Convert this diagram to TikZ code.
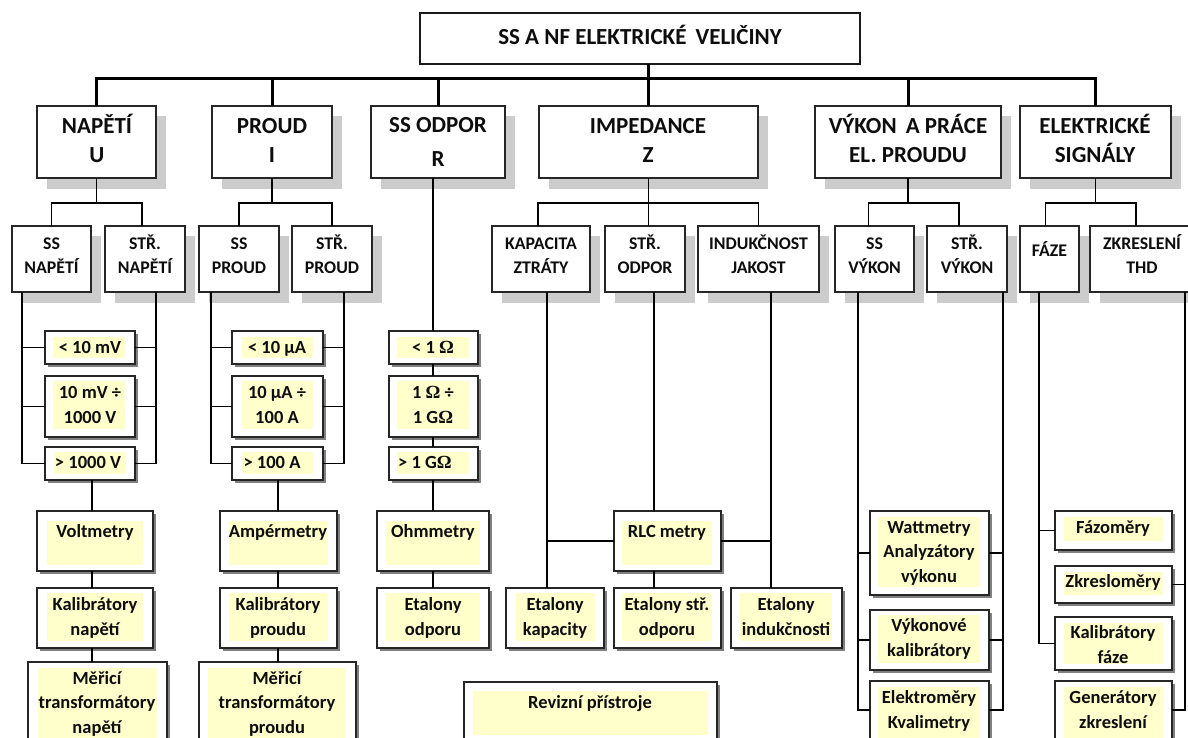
\documentclass[tikz,border=0pt]{standalone}
\usepackage{fontspec}
\setmainfont{Carlito}
\newfontfamily\omfont{Liberation Serif}
\newcommand\Om{{\omfont\bfseries Ω}}
\definecolor{yelw}{HTML}{FFFFCC}
\tikzset{
  bxA/.style={rectangle, draw=black!85, line width=1.3pt, fill=white, inner sep=0pt, outer sep=0pt},
  bxT/.style={rectangle, draw=black!90, line width=2pt, fill=white, inner sep=0pt, outer sep=0pt},
  shA/.style={fill=black!20},
  shB/.style={fill=black!50},
  yel/.style={fill=yelw},
  ln/.style={line width=1.8pt, black, line join=miter},
  busln/.style={line width=3pt, black, line join=miter},
  tA/.style={font=\fontsize{23}{29}\selectfont\bfseries, align=center, anchor=base, inner sep=0pt, text=black!95},
  tB/.style={font=\fontsize{18.5}{24.5}\selectfont\bfseries, align=center, anchor=base, inner sep=0pt, text=black!95},
  tC/.style={font=\fontsize{17.8}{24}\selectfont\bfseries, align=center, anchor=base, inner sep=0pt, text=black!95},
}
% upper box with light shadow: name x1 y1 x2 y2
\newcommand\HB[5]{%
  \fill[shA] (#2+10,#3+10) rectangle (#4+10,#5+11);
  \node[bxA, minimum width={#4-#2}, minimum height={#5-#3}] (#1) at ({(#2+#4)/2},{(#3+#5)/2}) {};
}
% lower box with thin dark shadow and yellow inner field: name x1 y1 x2 y2 {yellow rect}
\newcommand\LB[6]{%
  \fill[shB] (#2+3,#3+3) rectangle (#4+3,#5+3);
  \node[bxA, minimum width={#4-#2}, minimum height={#5-#3}] (#1) at ({(#2+#4)/2},{(#3+#5)/2}) {};
  \fill[yel] #6;
}
\begin{document}
\begin{tikzpicture}[x=1pt, y=-1pt]
\useasboundingbox (0,0) rectangle (1188,738);
\clip (0,0) rectangle (1188,738);

% ---------- title ----------
\node[bxT, minimum width=440, minimum height=51] (top) at (640,38.5) {};
\node[tA] (top-t) at (640,45) {SS A NF ELEKTRICKÉ\hspace{4pt} VELIČINY};

% ---------- level 1 ----------
\HB{nap}{37}{106}{156}{178}
\HB{proud}{212}{106}{332}{178}
\HB{odpor}{371}{106}{505}{178}
\HB{imp}{539}{106}{758}{178}
\HB{vykon}{815}{106}{1001}{178}
\HB{sig}{1020}{106}{1171}{178}
% anchor=base is the baseline of the last line
\node[tA] (nap-t) at (97,163) {NAPĚTÍ\\U};
\node[tA] (proud-t) at (272,163) {PROUD\\I};
\node[tA] (odpor-t) at (438,167) {SS ODPOR\\[5pt]R};
\node[tA] (imp-t) at (648,163) {IMPEDANCE\\Z};
\node[tA] (vykon-t) at (908,163) {VÝKON\hspace{4pt} A PRÁCE\\EL. PROUDU};
\node[tA] (sig-t) at (1095,163) {ELEKTRICKÉ\\SIGNÁLY};

% ---------- level 2 ----------
\HB{ssnap}{12}{226}{91}{292}
\HB{strnap}{105}{226}{185}{292}
\HB{ssproud}{199}{226}{279}{292}
\HB{strproud}{292}{226}{372}{292}
\HB{kap}{492}{226}{590}{292}
\HB{strodp}{605}{226}{685}{292}
\HB{ind}{698}{226}{819}{292}
\HB{ssvyk}{835}{226}{914}{292}
\HB{strvyk}{927}{226}{1007}{292}
\HB{faze}{1020}{226}{1079}{292}
\HB{zkr}{1090}{226}{1196}{292}
\node[tC] (ssnap-t) at (51.5,273) {SS\\NAPĚTÍ};
\node[tC] (strnap-t) at (145,273) {STŘ.\\NAPĚTÍ};
\node[tC] (ssproud-t) at (239,273) {SS\\PROUD};
\node[tC] (strproud-t) at (332,273) {STŘ.\\PROUD};
\node[tC] (kap-t) at (541,273) {KAPACITA\\ZTRÁTY};
\node[tC] (strodp-t) at (645,273) {STŘ.\\ODPOR};
\node[tC] (ind-t) at (758.5,273) {INDUKČNOST\\JAKOST};
\node[tC] (ssvyk-t) at (874.5,273) {SS\\VÝKON};
\node[tC] (strvyk-t) at (967,273) {STŘ.\\VÝKON};
\node[tC] (faze-t) at (1049.5,256) {FÁZE};
\node[tC] (zkr-t) at (1142,273) {ZKRESLENÍ\\THD};

% ---------- ranges ----------
\LB{r1}{45}{331}{135}{364}{(53,337) rectangle (125,358)}
\LB{r2}{45}{376}{135}{437}{(53,381) rectangle (125,429)}
\LB{r3}{45}{447}{135}{480}{(54,452) rectangle (126,474)}
\LB{p1}{232}{331}{323}{364}{(242,337) rectangle (313,358)}
\LB{p2}{232}{376}{323}{437}{(242,381) rectangle (313,429)}
\LB{p3}{232}{447}{323}{480}{(242,452) rectangle (313,474)}
\LB{o1}{389}{331}{478}{364}{(397,337) rectangle (469,358)}
\LB{o2}{389}{376}{478}{437}{(397,381) rectangle (469,429)}
\LB{o3}{389}{447}{478}{480}{(397,452) rectangle (469,474)}
\node[tB] (r1-t) at (90,353) {< 10 mV};
\node[tB] (r2-t) at (90,423) {10 mV ÷\\1000 V};
\node[tB] (r3-t) at (88,468) {> 1000 V};
\node[tB] (p1-t) at (277,353) {< 10 μA};
\node[tB] (p2-t) at (277,423) {10 μA ÷\\100 A};
\node[tB] (p3-t) at (272,468) {> 100 A};
\node[tB] (o1-t) at (433,353) {< 1 \Om};
\node[tB] (o2-t) at (433,423) {1 \Om{} ÷\\1 G\Om};
\node[tB] (o3-t) at (425,468) {> 1 G\Om};

% ---------- instruments ----------
\LB{volt}{37}{511}{153}{571}{(47,521) rectangle (143,565)}
\LB{kaln}{37}{588}{153}{648}{(47,593) rectangle (143,641)}
\LB{mern}{28}{662}{167}{750}{(38,668) rectangle (157,745)}
\LB{amp}{220}{511}{337}{571}{(229,521) rectangle (328,565)}
\LB{kalp}{220}{588}{337}{648}{(229,593) rectangle (328,641)}
\LB{merp}{199}{662}{356}{750}{(208,668) rectangle (346,745)}
\LB{ohm}{377}{511}{489}{571}{(386,521) rectangle (480,565)}
\LB{eto}{377}{588}{489}{648}{(386,593) rectangle (480,641)}
\LB{rlc}{614}{511}{721}{571}{(622,521) rectangle (712,565)}
\LB{etk}{506}{588}{604}{648}{(516,593) rectangle (595,641)}
\LB{ets}{614}{588}{721}{648}{(622,593) rectangle (712,641)}
\LB{eti}{731}{588}{842}{648}{(740,593) rectangle (832,641)}
\LB{rev}{464}{682}{717}{750}{(473,691) rectangle (708,735)}
\LB{watt}{870}{511}{989}{595}{(878,517) rectangle (980,587)}
\LB{vk}{870}{610}{989}{670}{(878,615) rectangle (980,663)}
\LB{ele}{870}{681}{989}{750}{(878,687) rectangle (980,745)}
\LB{fazom}{1055}{511}{1172}{550}{(1064,517) rectangle (1163,541)}
\LB{zkm}{1055}{566}{1172}{603}{(1064,572) rectangle (1163,595)}
\LB{kf}{1055}{617}{1172}{670}{(1064,623) rectangle (1163,664)}
\LB{gen}{1055}{681}{1172}{750}{(1064,687) rectangle (1163,745)}
\node[tB] (volt-t) at (95,537) {Voltmetry};
\node[tB] (kaln-t) at (95,635) {Kalibrátory\\napětí};
\node[tB] (mern-t) at (97,733) {Měřicí\\transformátory\\napětí};
\node[tB] (amp-t) at (278,537) {Ampérmetry};
\node[tB] (kalp-t) at (278,635) {Kalibrátory\\proudu};
\node[tB] (merp-t) at (277,733) {Měřicí\\transformátory\\proudu};
\node[tB] (ohm-t) at (433,537) {Ohmmetry};
\node[tB] (eto-t) at (433,635) {Etalony\\odporu};
\node[tB] (rlc-t) at (667,537) {RLC metry};
\node[tB] (etk-t) at (555,635) {Etalony\\kapacity};
\node[tB] (ets-t) at (667,635) {Etalony stř.\\odporu};
\node[tB] (eti-t) at (786,635) {Etalony\\indukčnosti};
\node[tB] (rev-t) at (590,708) {Revizní přístroje};
\node[tB] (watt-t) at (929,582) {Wattmetry\\Analyzátory\\výkonu};
\node[tB] (vk-t) at (929,656) {Výkonové\\kalibrátory};
\node[tB] (ele-t) at (929,728) {Elektroměry\\Kvalimetry};
\node[tB] (fazom-t) at (1113,533) {Fázoměry};
\node[tB] (zkm-t) at (1113,587) {Zkresloměry};
\node[tB] (kf-t) at (1113,663) {Kalibrátory\\fáze};
\node[tB] (gen-t) at (1113,728) {Generátory\\zkreslení};

% ---------- connectors ----------
\coordinate (bus) at (0,79);
\coordinate (sub) at (0,203);
\draw[busln] (nap.north) -- (nap.north |- bus) -- (sig.north |- bus) -- (sig.north);
\draw[busln] (proud.north) -- (proud.north |- bus);
\draw[busln] (odpor.north) -- (odpor.north |- bus);
\draw[busln] (imp.north |- top.south) -- (imp.north);
\draw[busln] (vykon.north) -- (vykon.north |- bus);

% level 1 -> level 2
\draw[ln] (nap.south) -- (nap.south |- sub);
\draw[ln] (ssnap.north) -- (ssnap.north |- sub) -- ([xshift=-3pt]strnap.north |- sub) -- ([xshift=-3pt]strnap.north);
\draw[ln] (proud.south) -- (proud.south |- sub);
\draw[ln] (ssproud.north) -- (ssproud.north |- sub) -- (strproud.north |- sub) -- (strproud.north);
\draw[ln] (imp.south) -- (imp.south |- strodp.north);
\draw[ln] ([xshift=-3pt]kap.north) -- ([xshift=-3pt]kap.north |- sub) -- (ind.north |- sub) -- (ind.north);
\draw[ln] (vykon.south) -- (vykon.south |- sub);
\draw[ln] ([xshift=-6pt]ssvyk.north) -- ([xshift=-6pt]ssvyk.north |- sub) -- ([xshift=-8pt]strvyk.north |- sub) -- ([xshift=-8pt]strvyk.north);
\draw[ln] (sig.south) -- (sig.south |- sub);
\draw[ln] ([xshift=-4pt]faze.north) -- ([xshift=-4pt]faze.north |- sub) -- ([xshift=-7pt]zkr.north |- sub) -- ([xshift=-7pt]zkr.north);

% vertical line positions
\coordinate (xnL) at (22,0);
\coordinate (xnR) at (156,0);
\coordinate (xnS) at (92,0);
\coordinate (xpL) at (211,0);
\coordinate (xpR) at (344,0);
\coordinate (xpS) at (278,0);
\coordinate (xoS) at (433,0);
\coordinate (xk) at (547,0);
\coordinate (xs) at (654,0);
\coordinate (xi) at (771,0);
\coordinate (xvL) at (858,0);
\coordinate (xvR) at (1003,0);
\coordinate (xfL) at (1039,0);
\coordinate (xzR) at (1185,0);
\coordinate (low) at (0,710);

% napeti
\draw[ln] (ssnap.south -| xnL) |- (r3.west);
\draw[ln] (r1.west) -- (r1.west -| xnL);
\draw[ln] (r2.west) -- (r2.west -| xnL);
\draw[ln] (strnap.south -| xnR) |- (r3.east);
\draw[ln] (r1.east) -- (r1.east -| xnR);
\draw[ln] (r2.east) -- (r2.east -| xnR);
\draw[ln] (r3.south -| xnS) -- (volt.north -| xnS);
\draw[ln] (volt.south -| xnS) -- (kaln.north -| xnS);
\draw[ln] (kaln.south -| xnS) -- (mern.north -| xnS);

% proud
\draw[ln] (ssproud.south -| xpL) |- (p3.west);
\draw[ln] (p1.west) -- (p1.west -| xpL);
\draw[ln] (p2.west) -- (p2.west -| xpL);
\draw[ln] (strproud.south -| xpR) |- (p3.east);
\draw[ln] (p1.east) -- (p1.east -| xpR);
\draw[ln] (p2.east) -- (p2.east -| xpR);
\draw[ln] (p3.south -| xpS) -- (amp.north -| xpS);
\draw[ln] (amp.south -| xpS) -- (kalp.north -| xpS);
\draw[ln] (kalp.south -| xpS) -- (merp.north -| xpS);

% odpor
\draw[ln] (odpor.south -| xoS) -- (o1.north -| xoS);
\draw[ln] (o1.south -| xoS) -- (o2.north -| xoS);
\draw[ln] (o2.south -| xoS) -- (o3.north -| xoS);
\draw[ln] (o3.south -| xoS) -- (ohm.north -| xoS);
\draw[ln] (ohm.south -| xoS) -- (eto.north -| xoS);

% impedance
\draw[ln] (kap.south -| xk) -- (etk.north -| xk);
\draw[ln] (rlc.west) -- (rlc.west -| xk);
\draw[ln] (strodp.south -| xs) -- (rlc.north -| xs);
\draw[ln] (rlc.south -| xs) -- (ets.north -| xs);
\draw[ln] (ind.south -| xi) -- (eti.north -| xi);
\draw[ln] (rlc.east) -- (rlc.east -| xi);

% vykon
\draw[ln] (ssvyk.south -| xvL) -- (xvL |- low) -- (ele.west |- low);
\draw[ln] (watt.west) -- (watt.west -| xvL);
\draw[ln] (vk.west) -- (vk.west -| xvL);
\draw[ln] (strvyk.south -| xvR) -- (xvR |- low) -- (ele.east |- low);
\draw[ln] (watt.east) -- (watt.east -| xvR);
\draw[ln] (vk.east) -- (vk.east -| xvR);

% signaly
\draw[ln] (faze.south -| xfL) |- (kf.west);
\draw[ln] (fazom.west) -- (fazom.west -| xfL);
\draw[ln] (zkr.south -| xzR) -- (xzR |- low) -- (gen.east |- low);
\draw[ln] (zkm.east) -- (zkm.east -| xzR);
\end{tikzpicture}
\end{document}
